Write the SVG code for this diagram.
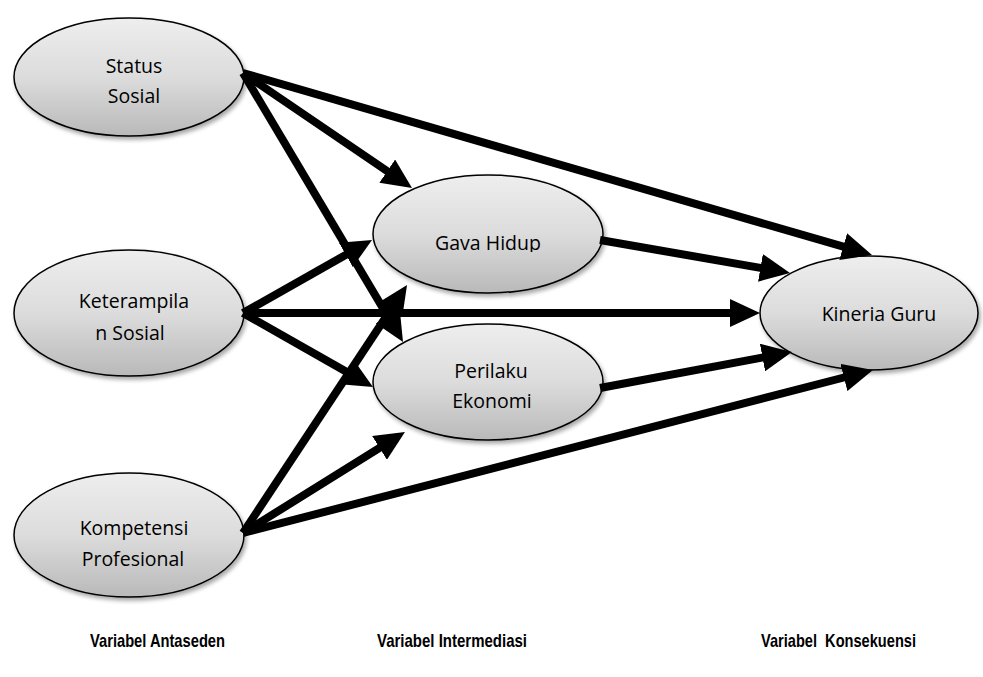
<svg xmlns="http://www.w3.org/2000/svg" width="983" height="677" viewBox="0 0 983 677">
<defs>
<linearGradient id="g" x1="0" y1="0" x2="0" y2="1">
<stop offset="0" stop-color="#eeeeee"/>
<stop offset="0.5" stop-color="#dcdcdc"/>
<stop offset="1" stop-color="#b9b9b9"/>
</linearGradient>
<filter id="sh" x="-10%" y="-10%" width="125%" height="130%">
<feGaussianBlur in="SourceAlpha" stdDeviation="2"/>
<feOffset dx="2" dy="3" result="b"/>
<feComponentTransfer><feFuncA type="linear" slope="0.35"/></feComponentTransfer>
<feMerge><feMergeNode/><feMergeNode in="SourceGraphic"/></feMerge>
</filter>
<marker id="ah" viewBox="0 0 30 28" refX="10" refY="14" markerUnits="userSpaceOnUse" markerWidth="30" markerHeight="28" orient="auto">
<path d="M0,0 L30,14 L0,28 z" fill="#000"/>
</marker>
<clipPath id="clipG"><rect x="380" y="200" width="220" height="52"/></clipPath>
<clipPath id="clipK"><rect x="770" y="280" width="200" height="42"/></clipPath>
</defs>
<style>
.node ellipse{fill:url(#g);stroke:#000;stroke-width:1.5;filter:url(#sh)}
.lbl{font-family:"Open Sans","Liberation Sans",sans-serif;font-size:19.5px;fill:#000;text-anchor:middle}
.foot{font-family:"Liberation Sans",Arial,sans-serif;font-size:18.5px;font-weight:bold;fill:#000;text-anchor:middle}
.edges line{stroke:#000;stroke-width:8;marker-end:url(#ah)}
</style>
<rect width="983" height="677" fill="#fff"/>
<g id="status-sosial" class="node">
<ellipse cx="129" cy="77" rx="115" ry="59"/>
<text class="lbl" x="134" y="73">Status</text>
<text class="lbl" x="134" y="103">Sosial</text>
</g>
<g id="keterampilan-sosial" class="node">
<ellipse cx="129" cy="313" rx="115" ry="63"/>
<text class="lbl" x="134" y="308">Keterampila</text>
<text class="lbl" x="130" y="340">n Sosial</text>
</g>
<g id="kompetensi-profesional" class="node">
<ellipse cx="129" cy="535" rx="115" ry="62"/>
<text class="lbl" x="134" y="535">Kompetensi</text>
<text class="lbl" x="133" y="566">Profesional</text>
</g>
<g id="gaya-hidup" class="node">
<ellipse cx="488" cy="234" rx="115" ry="59"/>
<text class="lbl" x="488" y="250" clip-path="url(#clipG)">Gava Hidup</text>
</g>
<g id="perilaku-ekonomi" class="node">
<ellipse cx="488" cy="382" rx="115" ry="58"/>
<text class="lbl" x="491" y="378">Perilaku</text>
<text class="lbl" x="492" y="408">Ekonomi</text>
</g>
<g id="kinerja-guru" class="node">
<ellipse cx="869" cy="313" rx="109" ry="57"/>
<text class="lbl" x="879" y="321" clip-path="url(#clipK)">Kineria Guru</text>
</g>
<g id="connectors" class="edges">
<line x1="243" y1="73" x2="395.5" y2="176.7"/>
<line x1="243" y1="73" x2="852.8" y2="249.4"/>
<line x1="243" y1="73" x2="392.8" y2="324.8"/>
<line x1="243" y1="313" x2="354.6" y2="249.9"/>
<line x1="243" y1="313" x2="740" y2="313"/>
<line x1="243" y1="313" x2="355.6" y2="377.1"/>
<line x1="243" y1="533" x2="396" y2="301.7"/>
<line x1="243" y1="533" x2="388" y2="442.6"/>
<line x1="243" y1="533" x2="853.6" y2="375"/>
<line x1="600" y1="240" x2="770.3" y2="269.6"/>
<line x1="600" y1="388" x2="772.3" y2="355.7"/>
</g>
<g id="footer">
<text class="foot" x="157.5" y="647" textLength="135" lengthAdjust="spacingAndGlyphs">Variabel Antaseden</text>
<text class="foot" x="452" y="647" textLength="150" lengthAdjust="spacingAndGlyphs">Variabel Intermediasi</text>
<text class="foot" x="838.5" y="647" textLength="155" lengthAdjust="spacingAndGlyphs" xml:space="preserve">Variabel  Konsekuensi</text>
</g>
</svg>
